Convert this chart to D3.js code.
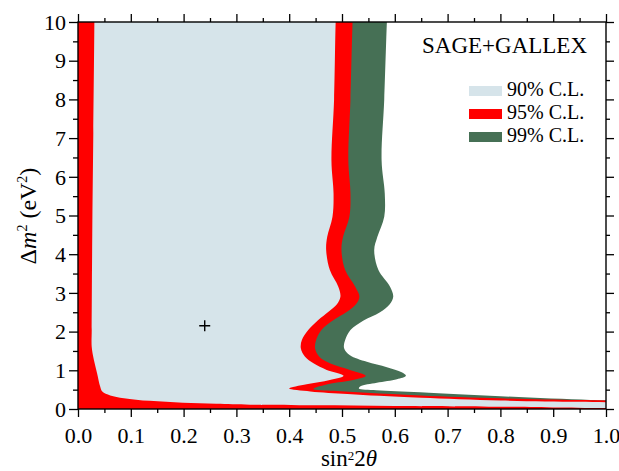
<!DOCTYPE html>
<html>
<head>
<meta charset="utf-8">
<script src="https://cdn.jsdelivr.net/npm/d3@7"></script>
<style>
  html, body { margin: 0; padding: 0; background: #fff; }
  svg { display: block; }
  svg text { font-family: "Liberation Serif", "Times New Roman", serif; fill: #000; }
</style>
</head>
<body>
<svg id="chart" width="619" height="471"></svg>
<script>
// ---------- data ----------
const xTickValues = [0, 0.1, 0.2, 0.3, 0.4, 0.5, 0.6, 0.7, 0.8, 0.9, 1.0];
const xTickLabels = ["0.0","0.1","0.2","0.3","0.4","0.5","0.6","0.7","0.8","0.9","1.0"];
const yTickValues = [0, 1, 2, 3, 4, 5, 6, 7, 8, 9, 10];
const yTickLabels = ["0","1","2","3","4","5","6","7","8","9","10"];

// 90% C.L. region: right/upper boundary (top -> tip -> right edge)
const cl90Upper = [
  [0.489,10.3],[0.488,10],[0.485,8],[0.480,6.43],[0.484,5.57],[0.482,4.97],[0.472,4.45],
  [0.470,4.11],[0.477,3.59],[0.493,3.16],[0.497,2.9],[0.490,2.7],[0.475,2.52],[0.455,2.30],
  [0.436,2.04],[0.424,1.78],[0.422,1.57],[0.430,1.35],[0.446,1.18],[0.471,1.01],[0.503,0.86],
  [0.477,0.75],[0.433,0.64],[0.400,0.53],[0.440,0.455],[0.510,0.39],[0.570,0.34],[0.650,0.29],
  [0.800,0.22],[0.950,0.185],[1.050,0.17]
];
// 90% C.L. region: lower/left boundary (right edge -> top left)
const cl90Lower = [
  [1.050,0.015],[0.900,0.04],[0.800,0.06],[0.600,0.08],[0.450,0.095],[0.326,0.11],[0.262,0.135],
  [0.199,0.16],[0.136,0.21],[0.087,0.28],[0.061,0.35],[0.046,0.45],[0.042,0.58],[0.036,0.93],
  [0.030,1.27],[0.026,1.6],[0.026,2.04],[0.027,4.5],[0.029,7.13],[0.031,10],[0.031,10.3]
];
// 95% C.L. region boundary
const cl95Edge = [
  [0.521,10.3],[0.520,10],[0.516,8],[0.512,6.43],[0.516,5.57],[0.514,4.97],[0.502,4.45],
  [0.499,4.11],[0.506,3.59],[0.525,3.16],[0.533,2.9],[0.526,2.7],[0.508,2.5],[0.484,2.30],
  [0.461,2.04],[0.451,1.78],[0.449,1.57],[0.457,1.35],[0.477,1.18],[0.515,1.01],[0.545,0.86],
  [0.521,0.75],[0.477,0.65],[0.446,0.52],[0.484,0.47],[0.547,0.42],[0.648,0.35],[0.800,0.275],
  [0.950,0.23],[1.050,0.215]
];
// 99% C.L. region boundary
const cl99Edge = [
  [0.586,10.3],[0.585,10],[0.580,8],[0.575,6.43],[0.581,5.57],[0.580,4.97],[0.567,4.45],
  [0.561,4.11],[0.569,3.59],[0.591,3.16],[0.597,2.9],[0.590,2.7],[0.572,2.5],[0.540,2.28],
  [0.516,2.04],[0.506,1.78],[0.504,1.57],[0.515,1.39],[0.547,1.22],[0.585,1.08],[0.613,0.95],
  [0.621,0.86],[0.604,0.77],[0.566,0.68],[0.535,0.59],[0.532,0.53],[0.565,0.485],[0.648,0.43],
  [0.800,0.33],[0.970,0.235],[1.050,0.215]
];
// closing corners outside the frame (regions extend beyond the plotted range)
const outsideCorners = [[1.05,-0.3],[-0.05,-0.3],[-0.05,10.3]];

const bestFit = [0.24, 2.15];
const legendLabels = ["90% C.L.", "95% C.L.", "99% C.L."];
const legendColors = ["#d6e4ea", "#ff0000", "#467055"];
const experimentLabel = "SAGE+GALLEX";

// ---------- layout ----------
const FONT = "Liberation Serif, Times New Roman, serif";
const svg = d3.select("#chart");
const pLeft = 78, pRight = 606, pTop = 22, pBottom = 409;
const x = d3.scaleLinear().domain([0, 1]).range([pLeft, pRight]);
const y = d3.scaleLinear().domain([0, 10]).range([pBottom, pTop]);

svg.append("defs").append("clipPath").attr("id", "plotclip")
  .append("rect").attr("x", pLeft).attr("y", pTop)
  .attr("width", pRight - pLeft).attr("height", pBottom - pTop);

const curve = d3.line().x(d => x(d[0])).y(d => y(d[1])).curve(d3.curveCatmullRom.alpha(0.5));
const straight = pts => pts.map(p => "L" + x(p[0]) + "," + y(p[1])).join("");

const plot = svg.append("g").attr("clip-path", "url(#plotclip)");
plot.append("rect").attr("x", pLeft).attr("y", pTop).attr("width", pRight-pLeft).attr("height", pBottom-pTop).attr("fill", "#fff");

plot.append("path").attr("d", curve(cl99Edge) + straight(outsideCorners) + "Z").attr("fill", legendColors[2]);
plot.append("path").attr("d", curve(cl95Edge) + straight(outsideCorners) + "Z").attr("fill", legendColors[1]);
plot.append("path").attr("d", curve(cl90Upper) + curve(cl90Lower).replace(/^M/, "L") + "Z").attr("fill", legendColors[0]);

// best fit marker
const bx = x(bestFit[0]), by = y(bestFit[1]);
svg.append("path").attr("d", `M${bx-5.5},${by}H${bx+5.5}M${bx},${by-5.5}V${by+5.5}`)
  .attr("stroke", "#000").attr("stroke-width", 1.4).attr("fill", "none");

// ---------- axes ----------
const xMinor = d3.range(0, 21).map(i => i * 0.05).filter((v, i) => i % 2 === 1);
const yMinor = d3.range(0, 21).map(i => i * 0.5).filter((v, i) => i % 2 === 1);

function styleAxis(g) {
  g.attr("font-family", FONT);
  g.select(".domain").remove();
  g.selectAll("line").attr("stroke", "#000").attr("stroke-width", 1.3);
}

// bottom
svg.append("g").attr("transform", `translate(0,${pBottom})`)
  .call(d3.axisBottom(x).tickValues(xMinor).tickSize(4).tickFormat("")).call(styleAxis);
const gb = svg.append("g").attr("transform", `translate(0,${pBottom})`)
  .call(d3.axisBottom(x).tickValues(xTickValues).tickSize(8).tickFormat((d,i) => xTickLabels[i])).call(styleAxis);
gb.selectAll("text").attr("y", 34).attr("dy", null).attr("font-size", 22).attr("font-family", FONT);

// top
svg.append("g").attr("transform", `translate(0,${pTop})`)
  .call(d3.axisTop(x).tickValues(xMinor).tickSize(4).tickFormat("")).call(styleAxis);
svg.append("g").attr("transform", `translate(0,${pTop})`)
  .call(d3.axisTop(x).tickValues(xTickValues).tickSize(8).tickFormat("")).call(styleAxis);

// left
svg.append("g").attr("transform", `translate(${pLeft},0)`)
  .call(d3.axisLeft(y).tickValues(yMinor).tickSize(5).tickFormat("")).call(styleAxis);
const gl = svg.append("g").attr("transform", `translate(${pLeft},0)`)
  .call(d3.axisLeft(y).tickValues(yTickValues).tickSize(9).tickFormat((d,i) => yTickLabels[i])).call(styleAxis);
gl.selectAll("text").attr("x", -12).attr("dy", "0.33em").attr("font-size", 22).attr("font-family", FONT);

// right
svg.append("g").attr("transform", `translate(${pRight},0)`)
  .call(d3.axisRight(y).tickValues(yMinor).tickSize(4).tickFormat("")).call(styleAxis);
svg.append("g").attr("transform", `translate(${pRight},0)`)
  .call(d3.axisRight(y).tickValues(yTickValues).tickSize(8).tickFormat("")).call(styleAxis);

// frame
svg.append("rect").attr("x", pLeft).attr("y", pTop).attr("width", pRight-pLeft).attr("height", pBottom-pTop)
  .attr("fill", "none").attr("stroke", "#000").attr("stroke-width", 1.4);

// axis titles
const xt = svg.append("text").attr("x", 349).attr("y", 466).attr("text-anchor", "middle").attr("font-size", 23);
xt.append("tspan").text("sin");
xt.append("tspan").attr("font-size", 13).attr("dy", -6.5).text("2");
xt.append("tspan").attr("dy", 6.5).text("2");
xt.append("tspan").attr("font-style", "italic").text("θ");

const yt = svg.append("text").attr("transform", "translate(36,216) rotate(-90)").attr("text-anchor", "middle").attr("font-size", 24);
yt.append("tspan").text("Δ");
yt.append("tspan").attr("font-style", "italic").text("m");
yt.append("tspan").attr("font-size", 14).attr("dy", -9).text("2");
yt.append("tspan").attr("dy", 9).text(" (eV");
yt.append("tspan").attr("font-size", 14).attr("dy", -9).text("2");
yt.append("tspan").attr("dy", 9).text(")");

// legend
svg.append("text").attr("x", 587).attr("y", 52.5).attr("text-anchor", "end").attr("font-size", 23).text(experimentLabel);
const leg = svg.append("g");
legendLabels.forEach((lab, i) => {
  const yy = 86 + i * 23;
  leg.append("rect").attr("x", 469).attr("y", yy).attr("width", 33).attr("height", 10).attr("fill", legendColors[i]);
  leg.append("text").attr("x", 507).attr("y", yy + 9.5).attr("font-size", 20).text(lab);
});
</script>
</body>
</html>
